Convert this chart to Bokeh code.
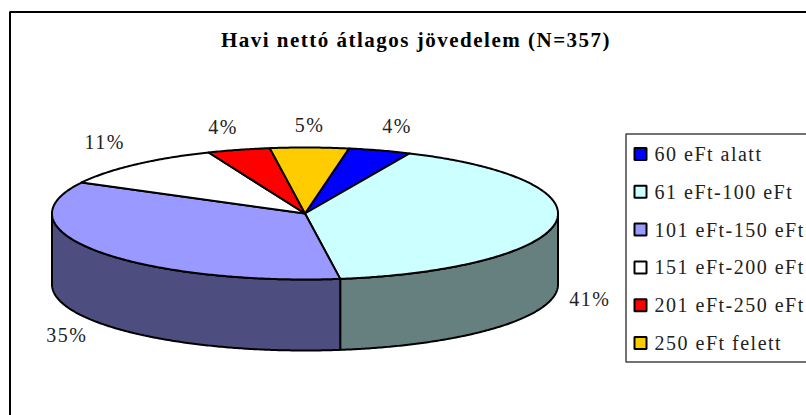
import numpy as np
from bokeh.plotting import figure
from bokeh.models import Range1d
from bokeh.core.properties import value
from bokeh.embed import file_html
from bokeh.resources import INLINE

title_text = "Havi nettó átlagos jövedelem (N=357)"
categories = ["60 eFt alatt", "61 eFt-100 eFt", "101 eFt-150 eFt",
              "151 eFt-200 eFt", "201 eFt-250 eFt", "250 eFt felett"]
shares = [4, 41, 35, 11, 4, 5]
top_colors = ["#0000FF", "#CCFFFF", "#9999FF", "#FFFFFF", "#FF0000", "#FFCC00"]
side_colors = ["#000080", "#668080", "#4D4D80", "#808080", "#800000", "#806600"]

START_DEG = 10.0
CX, CY, RX, RY, DEPTH = 304.5, 213.0, 253.0, 66.0, 71.0
FONT = value("Liberation Serif")

p = figure(width=806, height=415, output_backend="svg", toolbar_location=None,
           x_range=Range1d(0, 806), y_range=Range1d(415, 0),
           min_border=0, outline_line_color=None)
p.axis.visible = False
p.grid.visible = False
p.stylesheets = [":host{letter-spacing:1.5px}"]


def rim(a0, a1):
    t = np.radians(np.linspace(a0, a1, max(int(abs(a1 - a0)) * 2, 2)))
    return CX + RX * np.sin(t), CY - RY * np.cos(t)


# outer chart frame
p.line([9.5, 9.5, 806], [415, 11.5, 11.5], line_color="black", line_width=2)

# pie: side walls first, then the top slices
edges = START_DEG + np.cumsum([0] + shares) * 3.6
for a0, a1, side in zip(edges[:-1], edges[1:], side_colors):
    lo, hi = max(a0, 90), min(a1, 270)
    if hi > lo:
        x, y = rim(lo, hi)
        p.patch(np.r_[x, x[::-1]], np.r_[y, y[::-1] + DEPTH], fill_color=side,
                line_color="black", line_width=2, line_join="round")
for a0, a1, top in zip(edges[:-1], edges[1:], top_colors):
    x, y = rim(a0, a1)
    p.patch(np.r_[CX, x], np.r_[CY, y], fill_color=top,
            line_color="black", line_width=2, line_join="round")

# percentage labels
p.text([395, 587, 64, 102, 221, 307.5], [125, 298, 334, 141, 126, 124],
       text=[f"{s}%" for s in shares], text_font=FONT, text_font_size="20px",
       text_color="#222222", text_align="center", text_baseline="middle")

# title
p.text([388.5], [39], text=[title_text], text_font=FONT, text_font_size="21px",
       text_font_style="bold", text_color="black",
       text_align="center", text_baseline="middle")

# legend
p.line([806, 625.5, 625.5, 806], [133.5, 133.5, 361.5, 361.5],
       line_color="#444444", line_width=1.5)
ly = [153.5 + 37.8 * i for i in range(len(categories))]
p.rect([640] * 6, ly, width=12, height=12, fill_color=top_colors,
       line_color="black", line_width=2)
p.text([654] * 6, ly, text=categories, text_font=FONT, text_font_size="20px",
       text_color="#222222", text_align="left", text_baseline="middle")

open("out.html", "w").write(file_html(p, INLINE))
